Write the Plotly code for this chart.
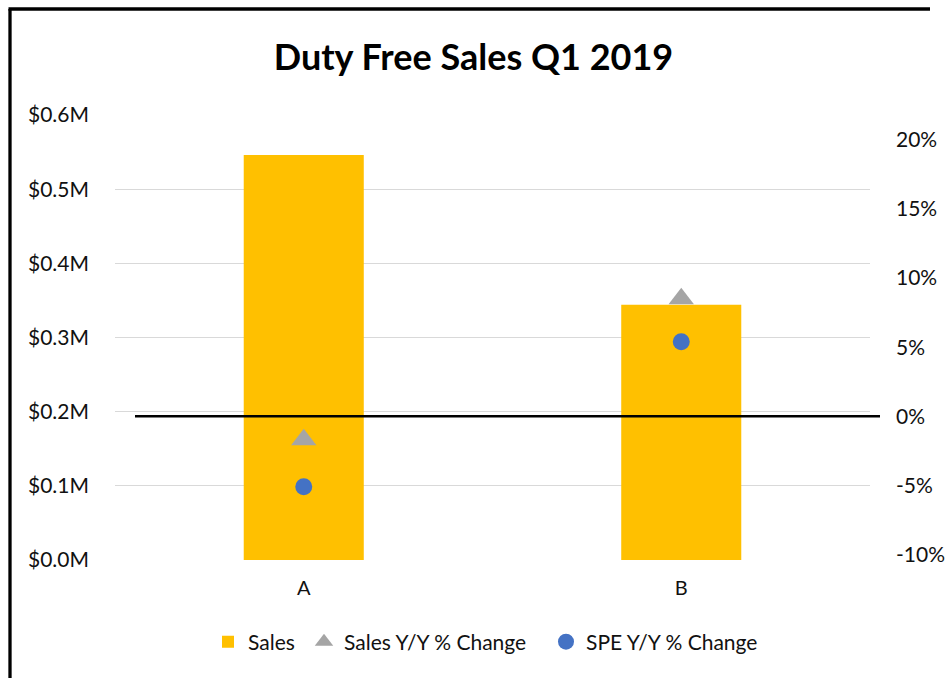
import plotly.graph_objects as go

# ---- data ----
categories = ["A", "B"]
sales_m = [0.546, 0.344]            # Sales, $ millions
sales_yy = [-0.017, 0.085]          # Sales Y/Y % change
spe_yy = [-0.051, 0.054]            # SPE Y/Y % change
left_ticks = [0.0, 0.1, 0.2, 0.3, 0.4, 0.5, 0.6]
left_labels = ["$0.0M", "$0.1M", "$0.2M", "$0.3M", "$0.4M", "$0.5M", "$0.6M"]
right_ticks = [-0.10, -0.05, 0.0, 0.05, 0.10, 0.15, 0.20]
right_labels = ["-10%", "-5%", "0%", "5%", "10%", "15%", "20%"]

FONT = "Lato, 'Open Sans', 'Noto Sans', sans-serif"
TXT = "#111111"

# plot area geometry (pixels) for paper conversions
L, R, T, B = 115, 870, 115, 560
W, H = 947, 678
def px(x):
    return (x - L) / (R - L)
def py(y):
    return (B - y) / (B - T)

fig = go.Figure()
fig.add_trace(go.Bar(
    x=categories, y=sales_m, name="Sales",
    marker=dict(color="#FFC000", line=dict(width=0)),
    width=0.318, legend="legend",
))
fig.add_trace(go.Scatter(
    x=categories, y=sales_yy, name="Sales Y/Y % Change", yaxis="y2",
    mode="markers", legend="legend2",
    marker=dict(symbol="triangle-up", size=22, color="#A5A5A5"),
))
fig.add_trace(go.Scatter(
    x=categories, y=spe_yy, name="SPE Y/Y % Change", yaxis="y2",
    mode="markers", legend="legend3",
    marker=dict(symbol="circle", size=17, color="#4472C4"),
))

shapes = [
    # zero line on secondary axis
    dict(type="line", xref="paper", yref="y2", x0=px(135), x1=px(880), y0=0, y1=0,
         line=dict(color="black", width=2.5), layer="above"),
    # chart frame (left & top edges)
    dict(type="line", xref="paper", yref="paper", x0=px(10), x1=px(10), y0=py(9), y1=py(690),
         line=dict(color="black", width=3.3)),
    dict(type="line", xref="paper", yref="paper", x0=px(8.5), x1=px(930), y0=py(9), y1=py(9),
         line=dict(color="black", width=3.3)),
]

leg_common = dict(orientation="h", xanchor="left", y=py(642), yanchor="middle",
                  font=dict(size=21, color=TXT), bgcolor="rgba(0,0,0,0)")

fig.update_layout(
    width=W, height=H,
    margin=dict(l=L, r=W - R, t=T, b=H - B, autoexpand=False),
    paper_bgcolor="white", plot_bgcolor="white",
    font=dict(family=FONT, size=21, color=TXT),
    title=dict(text="<b>Duty Free Sales Q1 2019</b>", x=0.5, xanchor="center", xref="container",
               y=1 - 57 / H, yanchor="middle", font=dict(size=36, color="black")),
    xaxis=dict(showgrid=False, showline=False, zeroline=False, ticks="",
               ticklabelstandoff=14, tickfont=dict(size=20), automargin=False),
    yaxis=dict(range=[0, 0.6], tickvals=left_ticks, ticktext=left_labels,
               showgrid=True, gridcolor="#D9D9D9",
               gridwidth=1.3, zeroline=False, showline=False, ticks="",
               ticklabelstandoff=25, automargin=False),
    yaxis2=dict(overlaying="y", side="right", range=[-0.104, 0.218],
                tickvals=right_ticks, ticktext=right_labels, showgrid=False,
                zeroline=False, showline=False, ticks="", ticklabelstandoff=25,
                automargin=False),
    legend=dict(x=px(208), **leg_common),
    legend2=dict(x=px(304), **leg_common),
    legend3=dict(x=px(546), **leg_common),
    showlegend=True,
    shapes=shapes,
)

fig.write_html("out.html", config={"displayModeBar": False},
               post_script="document.body.style.margin='0';document.body.style.overflow='hidden';")
